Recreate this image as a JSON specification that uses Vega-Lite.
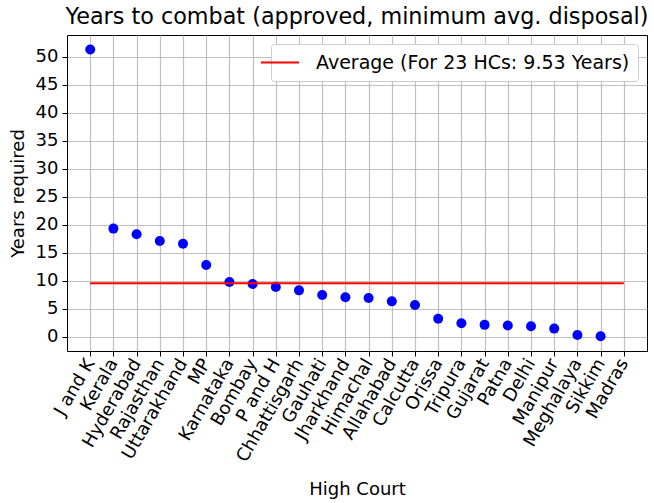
{
  "$schema": "https://vega.github.io/schema/vega-lite/v6.json",
  "autosize": "none",
  "width": 580,
  "height": 316,
  "padding": {"left": 67, "top": 35, "right": 7, "bottom": 152},
  "background": "white",
  "config": {
    "font": "DejaVu Sans",
    "view": {"stroke": "black", "strokeWidth": 1},
    "axis": {
      "labelFont": "DejaVu Sans",
      "titleFont": "DejaVu Sans",
      "labelFontSize": 18,
      "titleFontSize": 18,
      "labelColor": "black",
      "titleColor": "black",
      "titleFontWeight": "normal",
      "tickColor": "black",
      "tickSize": 5,
      "domain": false,
      "gridColor": "#b0b0b0",
      "gridWidth": 1.2,
      "gridOpacity": 0.8,
      "labelOverlap": false
    }
  },
  "title": {
    "text": "Years to combat (approved, minimum avg. disposal)",
    "fontSize": 22.3,
    "fontWeight": "normal",
    "font": "DejaVu Sans",
    "color": "black",
    "offset": 7
  },
  "datasets": {
    "courts": [
      {"court": "J and K", "years": 51.3},
      {"court": "Kerala", "years": 19.3},
      {"court": "Hyderabad", "years": 18.3},
      {"court": "Rajasthan", "years": 17.1},
      {"court": "Uttarakhand", "years": 16.6},
      {"court": "MP", "years": 12.8},
      {"court": "Karnataka", "years": 9.76},
      {"court": "Bombay", "years": 9.4},
      {"court": "P and H", "years": 8.87},
      {"court": "Chhattisgarh", "years": 8.27},
      {"court": "Gauhati", "years": 7.44},
      {"court": "Jharkhand", "years": 7.02},
      {"court": "Himachal", "years": 6.9},
      {"court": "Allahabad", "years": 6.3},
      {"court": "Calcutta", "years": 5.65},
      {"court": "Orissa", "years": 3.2},
      {"court": "Tripura", "years": 2.4},
      {"court": "Gujarat", "years": 2.1},
      {"court": "Patna", "years": 2.0},
      {"court": "Delhi", "years": 1.85},
      {"court": "Manipur", "years": 1.43},
      {"court": "Meghalaya", "years": 0.3},
      {"court": "Sikkim", "years": 0.06}
    ],
    "avg": [
      {"start": "J and K", "end": "Madras", "avg": 9.53, "label": "Average (For 23 HCs: 9.53 Years)"}
    ]
  },
  "layer": [
    {
      "data": {"name": "courts"},
      "mark": {"type": "point", "filled": true, "opacity": 1, "size": 100, "color": "#0000ff"},
      "encoding": {
        "x": {
          "field": "court",
          "type": "nominal",
          "sort": null,
          "scale": {
            "type": "point",
            "padding": 1.15,
            "domain": ["J and K", "Kerala", "Hyderabad", "Rajasthan", "Uttarakhand", "MP", "Karnataka", "Bombay", "P and H", "Chhattisgarh", "Gauhati", "Jharkhand", "Himachal", "Allahabad", "Calcutta", "Orissa", "Tripura", "Gujarat", "Patna", "Delhi", "Manipur", "Meghalaya", "Sikkim", "Madras"]
          },
          "axis": {
            "title": "High Court",
            "labelAngle": -60,
            "labelAlign": "right",
            "labelBaseline": "middle",
            "labelPadding": 4,
            "titlePadding": 16,
            "grid": true
          }
        },
        "y": {
          "field": "years",
          "type": "quantitative",
          "scale": {"domain": [-2.57, 53.9], "nice": false, "zero": false},
          "axis": {
            "title": "Years required",
            "values": [0, 5, 10, 15, 20, 25, 30, 35, 40, 45, 50],
            "titlePadding": 8,
            "labelPadding": 4,
            "grid": true
          }
        }
      }
    },
    {
      "data": {"name": "avg"},
      "mark": {"type": "rule", "strokeWidth": 2},
      "encoding": {
        "x": {
          "field": "start",
          "type": "nominal",
          "axis": {
            "title": "High Court",
            "labelAngle": -60,
            "labelAlign": "right",
            "labelBaseline": "middle",
            "labelPadding": 4,
            "titlePadding": 16,
            "grid": true
          }
        },
        "x2": {"field": "end"},
        "y": {
          "field": "avg",
          "type": "quantitative",
          "axis": {
            "title": "Years required",
            "values": [0, 5, 10, 15, 20, 25, 30, 35, 40, 45, 50],
            "titlePadding": 8,
            "labelPadding": 4,
            "grid": true
          }
        },
        "color": {
          "field": "label",
          "type": "nominal",
          "scale": {"range": ["#ff0000"]},
          "legend": {
            "title": null,
            "orient": "top-right",
            "offset": 9,
            "symbolType": "M-3,0H1",
            "symbolStrokeWidth": 2,
            "symbolSize": 361,
            "labelFontSize": 19,
            "labelFont": "DejaVu Sans",
            "labelColor": "black",
            "labelOffset": 16,
            "fillColor": "white",
            "strokeColor": "#cccccc",
            "cornerRadius": 3,
            "padding": 8,
            "labelLimit": 400
          }
        }
      }
    }
  ]
}
